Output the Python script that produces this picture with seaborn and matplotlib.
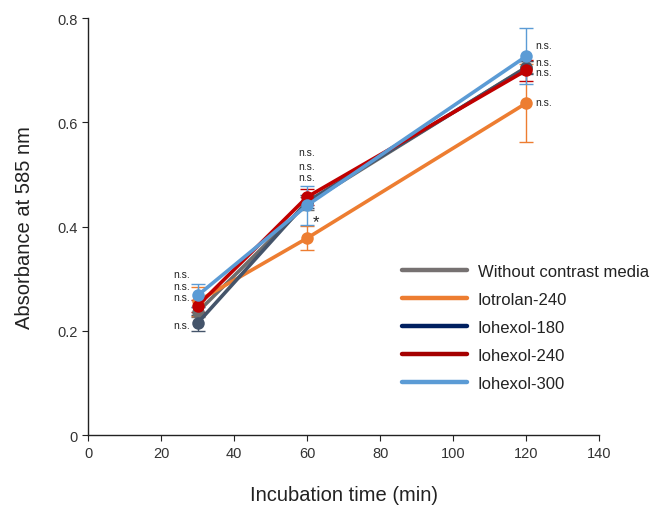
import matplotlib
matplotlib.use("Agg")
import matplotlib.pyplot as plt
import seaborn as sns
import pandas as pd
from matplotlib.lines import Line2D

sns.set_style("ticks")
plt.rcParams['font.family'] = ['Liberation Sans', 'DejaVu Sans']

times = [30, 60, 120]
series_names = ["Without contrast media", "Iotrolan-240", "Iohexol-180", "Iohexol-240", "Iohexol-300"]
without_vals = [0.236, 0.445, 0.706]
iotrolan240_vals = [0.257, 0.378, 0.637]
iohexol180_vals = [0.215, 0.448, 0.705]
iohexol240_vals = [0.248, 0.457, 0.700]
iohexol300_vals = [0.268, 0.441, 0.727]
without_err = [0.010, 0.012, 0.012]
iotrolan240_err = [0.028, 0.023, 0.075]
iohexol180_err = [0.015, 0.012, 0.012]
iohexol240_err = [0.012, 0.015, 0.020]
iohexol300_err = [0.022, 0.038, 0.054]

values = [without_vals, iotrolan240_vals, iohexol180_vals, iohexol240_vals, iohexol300_vals]
errors = [without_err, iotrolan240_err, iohexol180_err, iohexol240_err, iohexol300_err]
line_colors = ["#6E6E6E", "#ED7D31", "#44546A", "#C00000", "#5B9BD5"]
legend_colors = ["#767171", "#ED7D31", "#002060", "#A50000", "#5B9BD5"]

# significance annotations
ann_x = [28, 28, 28, 28, 60, 60, 60, 122.5, 122.5, 122.5, 122.5]
ann_y = [0.309, 0.287, 0.266, 0.211, 0.543, 0.517, 0.495, 0.749, 0.716, 0.697, 0.640]
ann_ha = ["right"] * 4 + ["center"] * 3 + ["left"] * 4
star_x, star_y = 61.5, 0.410

fig = plt.figure(figsize=(6.57, 5.06), dpi=100)
ax = fig.add_axes([0.134, 0.138, 0.778, 0.824])

for name, vals, err, c in zip(series_names, values, errors, line_colors):
    df = pd.DataFrame({"time": times, "abs": vals})
    ax.errorbar(times, vals, yerr=err, fmt="none", ecolor=c, elinewidth=1.0,
                capsize=5, capthick=1.0, zorder=2)
    sns.lineplot(data=df, x="time", y="abs", color=c, marker="o", markersize=9,
                 markeredgewidth=0, linewidth=2.6, ax=ax, zorder=3)

for xx, yy, ha in zip(ann_x, ann_y, ann_ha):
    ax.text(xx, yy, "n.s.", ha=ha, va="center", fontsize=7.5, color="#222222")
ax.text(star_x, star_y, "*", ha="left", va="center", fontsize=12, color="#222222")

ax.set_xlim(0, 140)
ax.set_ylim(0, 0.8)
ax.set_xticks([0, 20, 40, 60, 80, 100, 120, 140])
ax.set_yticks([0, 0.2, 0.4, 0.6, 0.8])
ax.set_yticklabels(["0", "0.2", "0.4", "0.6", "0.8"])
ax.tick_params(axis="both", labelsize=10.5, length=4, width=0.8, colors="#222222", labelcolor="#333333")
for s in ["top", "right"]:
    ax.spines[s].set_visible(False)
for s in ["left", "bottom"]:
    ax.spines[s].set_color("#222222")
    ax.spines[s].set_linewidth(1.0)

ax.set_xlabel("Incubation time (min)", fontsize=14.5, color="#222222", labelpad=18)
ax.set_ylabel("Absorbance at 585 nm", fontsize=14.5, color="#222222", labelpad=17)

handles = [Line2D([0], [0], color=c, linewidth=3.2) for c in legend_colors]
ax.legend(handles, series_names, loc="upper left", bbox_to_anchor=(0.585, 0.447),
          frameon=False, fontsize=12, handlelength=3.9, handletextpad=0.65,
          labelspacing=0.78, labelcolor="#222222")

fig.savefig("out.png", dpi=100)
